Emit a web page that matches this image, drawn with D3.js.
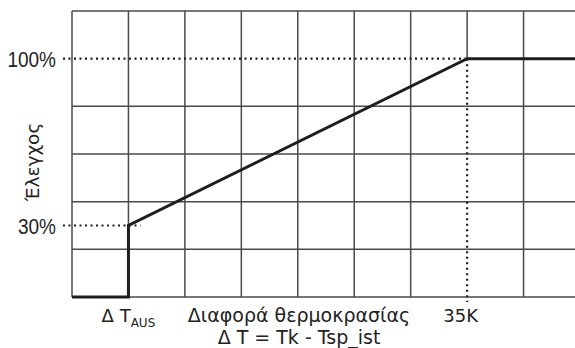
<!DOCTYPE html>
<html>
<head>
<meta charset="utf-8">
<script src="https://cdn.jsdelivr.net/npm/d3@7"></script>
<style>
  html, body { margin: 0; padding: 0; background: #fff; }
  svg { display: block; font-family: "DejaVu Sans", sans-serif; }
  .tick-lab { font-family: "Liberation Sans", Arial, sans-serif; }
</style>
</head>
<body>
<svg id="chart"></svg>
<script>
// data
var tempK = [0, 5, 5, 35, 45];          // temperature difference (K)
var control = [0, 0, 30, 100, 100];     // control signal (%)
var gridX = [0, 5, 10, 15, 20, 25, 30, 35, 40, 45];
var gridY = [0, 20, 40, 60, 80, 120];
var yMarks = [30, 100];
var yMarkLabels = ["30%", "100%"];
var tAus = 5;
var tMax = 35;

var width = 575, height = 348;
var svg = d3.select("#chart")
  .attr("width", width)
  .attr("height", height);

var x = d3.scaleLinear().domain([0, 45]).range([72, 580]);
var y = d3.scaleLinear().domain([0, 120]).range([297, 11]);

var gridColor = "#4a4a4a";
var ink = "#1e1e1e";

// vertical grid lines (the one at 35K only above 100%)
svg.append("g")
  .selectAll("line")
  .data(gridX)
  .join("line")
  .attr("x1", d => x(d))
  .attr("x2", d => x(d))
  .attr("y1", y(120))
  .attr("y2", d => d === tMax ? y(100) : y(0))
  .attr("stroke", gridColor)
  .attr("stroke-width", 1.5);

// horizontal grid lines
svg.append("g")
  .selectAll("line")
  .data(gridY)
  .join("line")
  .attr("x1", x(0))
  .attr("x2", width)
  .attr("y1", d => y(d))
  .attr("y2", d => y(d))
  .attr("stroke", gridColor)
  .attr("stroke-width", 1.5);

// dotted guides
var dots = svg.append("g")
  .attr("stroke", ink)
  .attr("stroke-width", 2.2)
  .attr("stroke-dasharray", "2,3.5");
dots.append("line")
  .attr("x1", x(0) - 9).attr("x2", x(tMax))
  .attr("y1", y(100)).attr("y2", y(100));
dots.append("line")
  .attr("x1", x(0) - 9).attr("x2", x(tAus) + 12)
  .attr("y1", y(30)).attr("y2", y(30));
dots.append("line")
  .attr("x1", x(tMax)).attr("x2", x(tMax))
  .attr("y1", y(100)).attr("y2", y(0) + 5);

// control curve
var pts = tempK.map((t, i) => [t, control[i]]);
svg.append("path")
  .datum(pts)
  .attr("fill", "none")
  .attr("stroke", ink)
  .attr("stroke-width", 3)
  .attr("stroke-linejoin", "miter")
  .attr("d", d3.line().x(d => x(d[0])).y(d => y(d[1])));

// y labels (tall, narrow lettering in the original)
svg.selectAll("text.tick-lab")
  .data(yMarks)
  .join("text")
  .attr("class", "tick-lab")
  .attr("transform", d => "translate(56," + y(d) + ") scale(1,1.2)")
  .attr("dy", "0.36em")
  .attr("text-anchor", "end")
  .attr("font-size", 19)
  .attr("fill", "#222")
  .text((d, i) => yMarkLabels[i]);

// y axis title
svg.append("text")
  .attr("transform", "translate(39,162) rotate(-90)")
  .attr("text-anchor", "middle")
  .attr("font-size", 18.5)
  .attr("fill", "#222")
  .text("Έλεγχος");

// x labels
var tAusLabel = svg.append("text")
  .attr("x", x(tAus))
  .attr("y", 322)
  .attr("text-anchor", "middle")
  .attr("font-size", 18)
  .attr("fill", "#222");
tAusLabel.append("tspan").text("Δ T");
tAusLabel.append("tspan")
  .attr("font-size", 12)
  .attr("dy", 5)
  .text("AUS");

svg.append("text")
  .attr("x", 299)
  .attr("y", 322)
  .attr("text-anchor", "middle")
  .attr("font-size", 19)
  .attr("fill", "#222")
  .text("Διαφορά θερμοκρασίας");

svg.append("text")
  .attr("x", 478)
  .attr("y", 322)
  .attr("text-anchor", "end")
  .attr("font-size", 18)
  .attr("fill", "#222")
  .text(tMax + "K");

svg.append("text")
  .attr("x", 299)
  .attr("y", 344)
  .attr("text-anchor", "middle")
  .attr("font-size", 19)
  .attr("fill", "#222")
  .text("Δ T = Tk - Tsp_ist");
</script>
</body>
</html>
